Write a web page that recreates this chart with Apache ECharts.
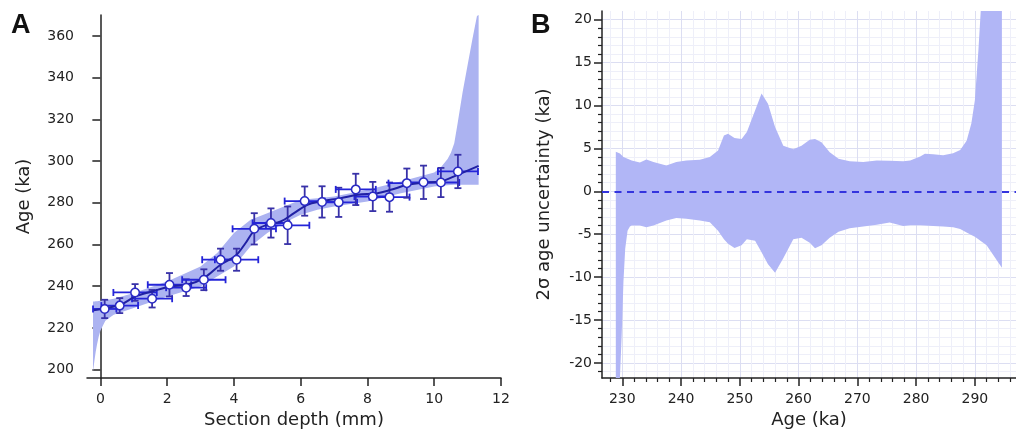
<!DOCTYPE html>
<html>
<head>
<meta charset="utf-8">
<script src="https://cdn.jsdelivr.net/npm/echarts@6/dist/echarts.min.js"></script>
<style>
  html, body { margin: 0; padding: 0; background: #fff; }
  #chart { width: 1016px; height: 436px; }
</style>
</head>
<body>
<div id="chart"></div>
<script>
// panel A: dated samples
const depth = [0.13, 0.58, 1.04, 1.55, 2.07, 2.57, 3.10, 3.60, 4.08, 4.61, 5.11, 5.61, 6.12, 6.64, 7.14, 7.65, 8.16, 8.66, 9.18, 9.68, 10.20, 10.71]
const age = [229.1, 230.7, 237.0, 234.0, 240.7, 239.3, 243.1, 252.7, 252.7, 267.5, 270.3, 269.2, 280.8, 280.4, 280.2, 286.4, 283.0, 282.7, 289.4, 289.8, 289.7, 295.0]
const depthErr = [0.35, 0.55, 0.65, 0.6, 0.65, 0.6, 0.65, 0.55, 0.65, 0.65, 0.55, 0.65, 0.6, 0.55, 0.55, 0.6, 0.55, 0.6, 0.55, 0.5, 0.55, 0.6]
const ageErr = [4.4, 3.6, 4.0, 4.2, 5.6, 4.0, 5.0, 5.3, 5.3, 7.5, 7.0, 9.0, 7.0, 7.5, 7.0, 7.5, 7.0, 7.0, 7.0, 8.0, 7.0, 8.0]

// panel A: age model and its 95% envelope
const modelDepth = [-0.2, 0.6, 1.05, 1.55, 2.1, 2.6, 3.1, 3.6, 4.05, 4.35, 4.6, 5.0, 5.4, 5.8, 6.2, 6.6, 7.2, 7.7, 8.3, 8.7, 9.2, 9.7, 10.2, 10.7, 11.33]
const modelAge = [228.5, 231.1, 235.1, 237.5, 239.9, 240.7, 243.9, 250.3, 254.6, 260.7, 266.3, 269.5, 271.0, 275.0, 279.0, 280.6, 282.2, 283.8, 284.6, 286.2, 288.6, 289.7, 290.2, 293.4, 297.7]
const bandDepth = [-0.22, -0.18, -0.14, -0.1, -0.05, 0, 0.15, 0.4, 1.0, 2.0, 3.0, 3.5, 4.0, 4.5, 5.0, 5.5, 6.0, 6.5, 7.0, 8.0, 9.0, 10.0, 10.2, 10.4, 10.5, 10.6, 10.7, 10.85, 11.0, 11.15, 11.28, 11.33]
const bandUpper = [232.7, 232.7, 232.8, 232.8, 232.9, 233.0, 233.3, 234.0, 236.7, 242.3, 249.5, 255.9, 265.5, 271.9, 275.0, 278.2, 281.4, 282.2, 283.0, 286.2, 290.2, 294.5, 297.0, 301.0, 304.0, 308.5, 318.0, 333.0, 346.0, 359.0, 369.5, 370.0]
const bandLower = [199.0, 204.0, 208.5, 212.0, 215.8, 218.6, 223.5, 226.3, 229.5, 235.1, 239.9, 244.7, 249.5, 259.1, 265.5, 270.3, 274.3, 276.6, 278.2, 280.6, 284.6, 287.8, 288.2, 288.4, 288.5, 288.6, 288.6, 288.6, 288.6, 288.6, 288.6, 288.6]
const ticksDepth = [0, 2, 4, 6, 8, 10, 12]
const ticksAge = [200, 220, 240, 260, 280, 300, 320, 340, 360]

// panel B: 2 sigma uncertainty envelope
const uAge = [228.9, 229.6, 229.9, 230.2, 230.5, 230.9, 231.3, 231.6, 233.0, 234.1, 235.3, 237.5, 239.2, 240.9, 243.2, 244.9, 246.3, 247.3, 248.0, 249.1, 250.3, 251.2, 252.6, 253.7, 254.8, 256.0, 257.4, 259.1, 260.5, 261.9, 262.8, 263.9, 265.3, 266.8, 268.7, 271.0, 273.3, 275.5, 277.8, 279.0, 280.7, 281.5, 282.9, 284.6, 286.3, 287.5, 288.6, 289.4, 290.0, 290.6, 291.0, 292.0, 294.6]
const uUpper = [4.6, 4.4, 4.2, 4.0, 3.9, 3.8, 3.66, 3.6, 3.35, 3.7, 3.4, 3.0, 3.4, 3.6, 3.66, 4.0, 4.75, 6.5, 6.7, 6.2, 6.1, 6.9, 9.4, 11.4, 10.2, 7.5, 5.3, 4.9, 5.3, 6.0, 6.1, 5.7, 4.55, 3.8, 3.5, 3.4, 3.6, 3.55, 3.5, 3.6, 4.05, 4.36, 4.3, 4.2, 4.44, 4.8, 5.9, 7.9, 10.6, 16.4, 28, 45, 80]
const uLower = [-45, -24, -16.7, -10.5, -6.7, -4.6, -4.1, -4.0, -4.0, -4.2, -4.0, -3.4, -3.1, -3.2, -3.4, -3.6, -4.6, -5.6, -6.1, -6.6, -6.3, -5.6, -5.75, -7.1, -8.5, -9.5, -7.8, -5.6, -5.4, -6.0, -6.65, -6.3, -5.4, -4.7, -4.3, -4.1, -3.9, -3.65, -4.05, -3.95, -3.95, -4.0, -4.05, -4.1, -4.2, -4.4, -4.8, -5.1, -5.3, -5.6, -5.8, -6.3, -8.9]
const ticksU = [-20, -15, -10, -5, 0, 5, 10, 15, 20]
const ticksUAge = [230, 240, 250, 260, 270, 280, 290]

const font = 'DejaVu Sans'
const ink = '#222'
const hBarColor = '#2424d8'
const vBarColor = '#3831a8'

const chart = echarts.init(document.getElementById('chart'))

const errorBars = (params, api) => {
  const x = api.value(0)
  const y = api.value(1)
  const hx = api.value(2)
  const hy = api.value(3)
  const l = api.coord([x - hx, y])
  const r = api.coord([x + hx, y])
  const t = api.coord([x, y + hy])
  const b = api.coord([x, y - hy])
  const cap = 3.5
  const seg = (x1, y1, x2, y2, stroke) => ({
    type: 'line',
    shape: {x1, y1, x2, y2},
    style: {stroke, lineWidth: 1.8}
  })
  return {
    type: 'group',
    children: [
      seg(l[0], l[1], r[0], r[1], hBarColor),
      seg(l[0], l[1] - cap, l[0], l[1] + cap, hBarColor),
      seg(r[0], r[1] - cap, r[0], r[1] + cap, hBarColor),
      seg(t[0], t[1], b[0], b[1], vBarColor),
      seg(t[0] - cap, t[1], t[0] + cap, t[1], vBarColor),
      seg(b[0] - cap, b[1], b[0] + cap, b[1], vBarColor)
    ]
  }
}

// envelope polygon: upper edge forward, lower edge back, clamped to the grid
const envelope = (xs, upper, lower, color) => (params, api) => {
  const pts = []
  xs.forEach((x, i) => pts.push(api.coord([x, upper[i]])))
  for (let i = xs.length - 1; i >= 0; i--) pts.push(api.coord([xs[i], lower[i]]))
  const cs = params.coordSys
  return {
    type: 'polygon',
    shape: {points: echarts.graphic.clipPointsByRect(pts, cs), smooth: 0},
    style: {fill: color}
  }
}

const axisText = {color: ink, fontFamily: font, fontSize: 14}
const nameText = {color: ink, fontFamily: font, fontSize: 18}

const option = {
  animation: false,
  graphic: [
    {type: 'text', left: 11, top: 12, style: {text: 'A', fontFamily: 'Liberation Sans', fontWeight: 'bold', fontSize: 27, fill: '#111'}},
    {type: 'text', left: 531, top: 12, style: {text: 'B', fontFamily: 'Liberation Sans', fontWeight: 'bold', fontSize: 27, fill: '#111'}}
  ],
  grid: [
    {left: 87, top: 15, width: 414, height: 363, outerBoundsMode: 'none'},
    {left: 602, top: 11, width: 414, height: 367, outerBoundsMode: 'none'}
  ],
  xAxis: [
    {
      gridIndex: 0, type: 'value', min: -0.4, max: 12,
      name: 'Section depth (mm)', nameLocation: 'middle', nameGap: 33, nameTextStyle: nameText,
      axisLine: {lineStyle: {color: ink, width: 1.5}},
      axisTick: {length: 8, lineStyle: {color: ink, width: 1.5}, customValues: ticksDepth},
      axisLabel: Object.assign({margin: 14, customValues: ticksDepth}, axisText),
      splitLine: {show: false}
    },
    {
      gridIndex: 1, type: 'value', min: 226.55, max: 297, minInterval: 10, maxInterval: 10,
      name: 'Age (ka)', nameLocation: 'middle', nameGap: 33, nameTextStyle: nameText,
      axisLine: {onZero: false, lineStyle: {color: ink, width: 1.5}},
      axisTick: {length: 8, lineStyle: {color: ink, width: 1.5}, customValues: ticksUAge},
      minorTick: {show: true, splitNumber: 5, length: 4, lineStyle: {color: ink, width: 1.2}},
      axisLabel: Object.assign({margin: 14, customValues: ticksUAge}, axisText),
      splitLine: {show: true, lineStyle: {color: '#dcdef2', width: 1}},
      minorSplitLine: {show: true, lineStyle: {color: '#eeeff9', width: 1}}
    }
  ],
  yAxis: [
    {
      gridIndex: 0, type: 'value', min: 196, max: 370,
      name: 'Age (ka)', nameLocation: 'middle', nameGap: 54, nameTextStyle: nameText,
      axisLine: {lineStyle: {color: ink, width: 1.5}},
      axisTick: {length: 8, lineStyle: {color: ink, width: 1.5}, customValues: ticksAge},
      axisLabel: Object.assign({margin: 13, customValues: ticksAge}, axisText),
      splitLine: {show: false}
    },
    {
      gridIndex: 1, type: 'value', min: -21.75, max: 21, minInterval: 5, maxInterval: 5,
      name: '2σ age uncertainty (ka)', nameLocation: 'middle', nameGap: 49, nameTextStyle: nameText,
      axisLine: {onZero: false, lineStyle: {color: ink, width: 1.5}},
      axisTick: {length: 8, lineStyle: {color: ink, width: 1.5}, customValues: ticksU},
      minorTick: {show: true, splitNumber: 5, length: 4, lineStyle: {color: ink, width: 1.2}},
      axisLabel: Object.assign({margin: 10, customValues: ticksU}, axisText),
      splitLine: {show: true, lineStyle: {color: '#dcdef2', width: 1}},
      minorSplitLine: {show: true, lineStyle: {color: '#eeeff9', width: 1}}
    }
  ],
  series: [
    {
      type: 'custom', xAxisIndex: 0, yAxisIndex: 0, z: 1, silent: true,
      renderItem: envelope(bandDepth, bandUpper, bandLower, '#acb3f1'),
      data: [[bandDepth[0], bandLower[0]]]
    },
    {
      type: 'custom', xAxisIndex: 0, yAxisIndex: 0,
      renderItem: errorBars, encode: {x: 0, y: 1}, z: 3,
      data: depth.map((d, i) => [d, age[i], depthErr[i], ageErr[i]])
    },
    {
      type: 'line', xAxisIndex: 0, yAxisIndex: 0, z: 4,
      symbol: 'none', smooth: 0.35, lineStyle: {color: '#2020a4', width: 2},
      data: modelDepth.map((d, i) => [d, modelAge[i]])
    },
    {
      type: 'scatter', xAxisIndex: 0, yAxisIndex: 0, z: 5,
      symbol: 'circle', symbolSize: 8.5,
      itemStyle: {color: '#fff', borderColor: '#2a2ac4', borderWidth: 1.5, opacity: 1},
      data: depth.map((d, i) => [d, age[i]])
    },
    {
      type: 'custom', xAxisIndex: 1, yAxisIndex: 1, z: 1, silent: true,
      renderItem: envelope(uAge, uUpper, uLower, '#b1b6f6'),
      data: [[uAge[0], 0]],
      markLine: {
        silent: true, symbol: 'none', label: {show: false},
        lineStyle: {color: '#3434de', width: 2, type: [7, 5.5]},
        data: [{yAxis: 0}]
      }
    }
  ]
}

chart.setOption(option)
</script>
</body>
</html>
